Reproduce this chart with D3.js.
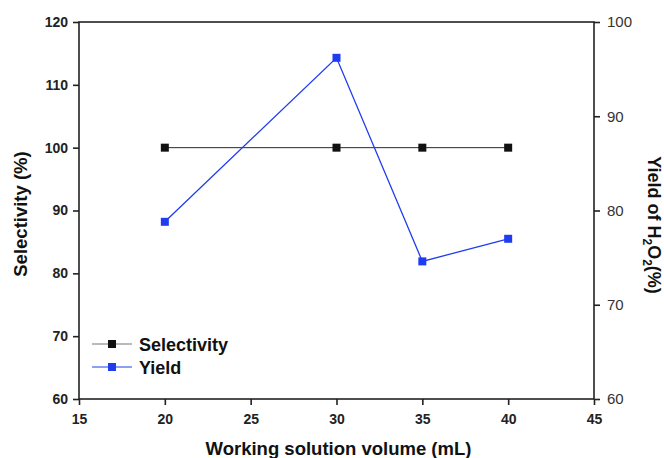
<!DOCTYPE html>
<html>
<head>
<meta charset="utf-8">
<script src="https://cdn.jsdelivr.net/npm/d3@7"></script>
<style>
  html, body { margin: 0; padding: 0; background: #fff; }
  svg { display: block; font-family: "Liberation Sans", Arial, sans-serif; }
</style>
</head>
<body>
<svg id="chart" width="664" height="458"></svg>
<script>
// Working solution volume (mL)
const volumes = [20, 30, 35, 40];
// Selectivity (%) on the left axis
const selectivity = [100, 100, 100, 100];
// Yield of H2O2 (%) on the right axis
const yieldH2O2 = [78.8, 96.2, 74.6, 77.0];

const xTicks = [15, 20, 25, 30, 35, 40, 45];
const leftTicks = [60, 70, 80, 90, 100, 110, 120];
const rightTicks = [60, 70, 80, 90, 100];

const svg = d3.select("#chart");
const m = { left: 79, right: 594, top: 22, bottom: 399 };

const x = d3.scaleLinear().domain([15, 45]).range([m.left, m.right]);
const yL = d3.scaleLinear().domain([60, 120]).range([m.bottom, m.top]);
const yR = d3.scaleLinear().domain([60, 100]).range([m.bottom, m.top]);

// frame
svg.append("rect")
  .attr("x", m.left).attr("y", m.top)
  .attr("width", m.right - m.left).attr("height", m.bottom - m.top)
  .attr("fill", "none").attr("stroke", "#222").attr("stroke-width", 1.6);

// bottom axis
const gx = svg.append("g").attr("transform", `translate(0,${m.bottom})`)
  .call(d3.axisBottom(x).tickValues(xTicks).tickSize(6).tickPadding(9).tickFormat(d3.format("d")));
gx.select(".domain").remove();
gx.selectAll("line").attr("stroke", "#222").attr("stroke-width", 1.6);
gx.selectAll("text").attr("font-size", 14).attr("font-weight", "bold").attr("fill", "#222");

// left axis
const gl = svg.append("g").attr("transform", `translate(${m.left},0)`)
  .call(d3.axisLeft(yL).tickValues(leftTicks).tickSize(6).tickPadding(5).tickFormat(d3.format("d")));
gl.select(".domain").remove();
gl.selectAll("line").attr("stroke", "#222").attr("stroke-width", 1.6);
gl.selectAll("text").attr("font-size", 14).attr("font-weight", "bold").attr("fill", "#222");

// right axis
const gr = svg.append("g").attr("transform", `translate(${m.right},0)`)
  .call(d3.axisRight(yR).tickValues(rightTicks).tickSize(6).tickPadding(7).tickFormat(d3.format("d")));
gr.select(".domain").remove();
gr.selectAll("line").attr("stroke", "#222").attr("stroke-width", 1.6);
gr.selectAll("text").attr("font-size", 15).attr("fill", "#333");

// axis titles
svg.append("text")
  .attr("x", (m.left + m.right) / 2 + 2).attr("y", 455)
  .attr("text-anchor", "middle").attr("font-size", 18.5).attr("font-weight", "bold").attr("fill", "#111")
  .text("Working solution volume (mL)");

svg.append("text")
  .attr("transform", `translate(27,214) rotate(-90)`)
  .attr("text-anchor", "middle").attr("font-size", 18.5).attr("font-weight", "bold").attr("fill", "#111")
  .text("Selectivity (%)");

const rt = svg.append("text")
  .attr("transform", `translate(648,225) rotate(90)`)
  .attr("text-anchor", "middle").attr("font-size", 18).attr("font-weight", "bold").attr("fill", "#111");
rt.append("tspan").text("Yield of H");
rt.append("tspan").attr("font-size", 12).attr("dy", 5).text("2");
rt.append("tspan").attr("dy", -5).text("O");
rt.append("tspan").attr("font-size", 12).attr("dy", 5).text("2");
rt.append("tspan").attr("dy", -5).text("(%)");

// series
const selColor = "#111";
const yldColor = "#1f3cf0";
const selPts = volumes.map((v, i) => [x(v), yL(selectivity[i])]);
const yldPts = volumes.map((v, i) => [x(v), yR(yieldH2O2[i])]);

svg.append("path").attr("d", d3.line()(selPts))
  .attr("fill", "none").attr("stroke", selColor).attr("stroke-width", 0.9);
svg.append("path").attr("d", d3.line()(yldPts))
  .attr("fill", "none").attr("stroke", yldColor).attr("stroke-width", 1.3);

const sz = 8;
svg.selectAll(".selm").data(selPts).join("rect")
  .attr("x", d => d[0] - sz / 2).attr("y", d => d[1] - sz / 2)
  .attr("width", sz).attr("height", sz).attr("fill", selColor);
svg.selectAll(".yldm").data(yldPts).join("rect")
  .attr("x", d => d[0] - sz / 2).attr("y", d => d[1] - sz / 2)
  .attr("width", sz).attr("height", sz).attr("fill", yldColor);

// legend
const legend = [
  { name: "Selectivity", color: selColor, line: "#777", y: 344 },
  { name: "Yield", color: yldColor, line: yldColor, y: 367 }
];
legend.forEach(l => {
  svg.append("line").attr("x1", 92).attr("x2", 132).attr("y1", l.y).attr("y2", l.y)
    .attr("stroke", l.line).attr("stroke-width", 1.2);
  svg.append("rect").attr("x", 112 - sz / 2).attr("y", l.y - sz / 2)
    .attr("width", sz).attr("height", sz).attr("fill", l.color);
  svg.append("text").attr("x", 139).attr("y", l.y + 6.5)
    .attr("font-size", 18).attr("font-weight", "bold").attr("fill", "#111").text(l.name);
});
</script>
</body>
</html>
